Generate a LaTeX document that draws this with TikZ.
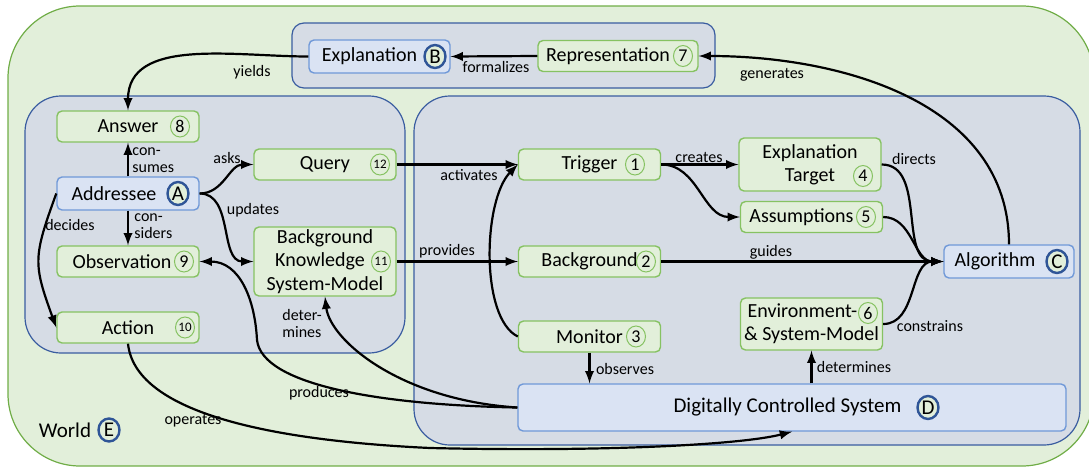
\documentclass[tikz,border=0pt]{standalone}
\usepackage{fontspec}
\setmainfont{Carlito}
\usetikzlibrary{shapes.geometric}
\tikzset{>=latex}
\definecolor{worldfill}{HTML}{E2EFDA}
\definecolor{worldline}{HTML}{70AD47}
\definecolor{panelfill}{HTML}{D6DCE5}
\definecolor{panelline}{HTML}{3A5DA0}
\definecolor{gfill}{HTML}{E2EFDA}
\definecolor{gline}{HTML}{86C262}
\definecolor{bfill}{HTML}{DAE3F3}
\definecolor{bline}{HTML}{7099D8}
\definecolor{letline}{HTML}{2F5597}
\tikzset{
  world/.style = {draw=worldline, fill=worldfill, line width=0.6pt, rounded corners=36pt},
  panel/.style = {draw=panelline, fill=panelfill, line width=0.6pt},
  greenbox/.style = {draw=gline, fill=gfill, rounded corners=2.5pt, line width=0.7pt,
    minimum width=71pt, minimum height=15.5pt, inner sep=1pt, align=center,
    execute at end node={\kern#1}},
  greenbox/.default = 0pt,
  bluebox/.style = {draw=bline, fill=bfill, rounded corners=2.5pt, line width=0.7pt,
    minimum width=71pt, minimum height=16.5pt, inner sep=1pt,
    execute at end node={\kern#1}},
  bluebox/.default = 0pt,
  numc/.style = {ellipse, draw=gline, fill=gfill, line width=0.5pt, minimum width=9.5pt,
    minimum height=10.5pt, inner sep=0pt, font=\fontsize{9}{9}\selectfont},
  smallnum/.style = {font=\fontsize{6.5}{6.5}\selectfont},
  letc/.style = {ellipse, draw=letline, fill=gfill, line width=1.2pt, minimum width=10.5pt,
    minimum height=11.5pt, inner sep=0pt, font=\fontsize{10.5}{10.5}\selectfont},
  lbl/.style = {inner sep=0pt, align=left, font=\fontsize{8}{8.5}\selectfont},
  conn/.style = {->, line width=1.1pt}
}

\begin{document}
\begin{tikzpicture}[x=0.5pt,y=0.5pt,font=\fontsize{10}{11.7}\selectfont]
  \useasboundingbox (0,0) rectangle (1089,468);
  % world and the three panels
  \draw[world] (8,2) rectangle (1094,462);
  \draw[panel,rounded corners=6pt] (292,380) rectangle (715,445);
  \draw[panel,rounded corners=18pt] (25,115) rectangle (405,372);
  \draw[panel,rounded corners=18pt] (414,23) rectangle (1080,372);

  % explanation panel
  \node[bluebox=10pt,minimum width=70.5pt] (expl) at (379.5,411.5) {Explanation};
  \node[letc] (b) at (435,411.5) {B};
  \node[greenbox=10pt,minimum width=80pt] (rep) at (618,412) {Representation};
  \node[numc] (n7) at (683,412) {7};

  % addressee panel
  \node[greenbox] (ans) at (128,341.5) {Answer};
  \node[numc] (n8) at (180,341.5) {8};
  \node[greenbox] (qry) at (325,303.5) {Query};
  \node[numc,smallnum] (n12) at (380,303.5) {12};
  \node[bluebox=14pt] (addr) at (128,274.5) {Addressee};
  \node[letc] (a) at (178,274.5) {A};
  \node[greenbox=6pt] (obs) at (128,206.5) {Observation};
  \node[numc] (n9) at (184,206.5) {9};
  \node[greenbox,minimum height=34.5pt] (bk) at (325,206.5) {Background\\Knowledge\kern5pt\\System-Model};
  \node[numc,smallnum] (n11) at (381,206.5) {11};
  \node[greenbox] (act) at (128,140.5) {Action};
  \node[numc,smallnum] (n10) at (185,140.5) {10};

  % system panel
  \node[greenbox] (trig) at (589.5,303.5) {Trigger};
  \node[numc] (n1) at (635,303.5) {1};
  \node[greenbox] (bg) at (589.5,206.5) {Background};
  \node[numc] (n2) at (646,206.5) {2};
  \node[greenbox] (mon) at (589.5,131.5) {Monitor};
  \node[numc] (n3) at (636,131.5) {3};
  \node[greenbox,minimum height=26.5pt] (tgt) at (810,303.5) {Explanation\\Target};
  \node[numc] (n4) at (863,292) {4};
  \node[greenbox=10pt] (ass) at (811.5,251) {Assumptions};
  \node[numc] (n5) at (866,251) {5};
  \node[greenbox,minimum height=26pt] (env) at (811.5,144) {Environment-\kern9pt\\\& System-Model};
  \node[numc] (n6) at (868,155) {6};
  \node[bluebox=14pt,minimum width=65pt] (alg) at (1009,206.5) {Algorithm};
  \node[letc] (c) at (1057,206.5) {C};
  \node[bluebox=4.5pt,minimum width=274pt,minimum height=23.5pt,font=\fontsize{10.5}{12}\selectfont] (dcs) at (792,60.5) {Digitally Controlled System};
  \node[letc] (d) at (928,60.5) {D};

  \node[font=\fontsize{10.5}{12}\selectfont] (world) at (65,38) {World};
  \node[letc] (e) at (109,38) {E};

  % connectors
  \draw[conn] (rep.west) -- (expl.east);
  \draw[conn] (alg.north) to[out=90,in=0] (rep.east);
  \draw[conn] (expl.west) to[out=180,in=90] (ans.north);
  \draw[conn] (addr.north) -- (ans.south);
  \draw[conn] (addr.south) -- (obs.north);
  \draw[conn] (addr.west) to[out=250,in=110,looseness=1.3] (act.west);
  \draw[conn] (addr.east) to[out=0,in=180] (qry.west);
  \draw[conn] (addr.east) to[out=0,in=180] (bk.west);
  \draw[conn] (qry.east) -- (trig.west);
  \draw[conn] (bk.east) -- (bg.west);
  \draw[conn] (mon.west) .. controls (480,150) and (483,268) .. (trig.west);
  \draw[conn] (trig.east) -- (tgt.west);
  \draw[conn] (trig.east) to[out=0,in=180] (ass.west);
  \draw[conn] (bg.east) -- (alg.west);
  \draw[conn] (tgt.east) to[out=0,in=180] (alg.west);
  \draw[conn] (ass.east) to[out=0,in=180] (alg.west);
  \draw[conn] (env.east) to[out=0,in=180] (alg.west);
  \draw[conn] (mon.south) -- (mon.south |- dcs.north);
  \draw[conn] (env.south |- dcs.north) -- (env.south);
  \draw[conn] (dcs.west) .. controls (380,63) and (262,83) .. (257,128)
    .. controls (255,168) and (240,206.5) .. (obs.east);
  \draw[conn] (dcs.west) .. controls (400,68) and (330,128) .. (bk.south);
  \draw[conn] (act.south) .. controls (135,58) and (260,28) .. (430,20)
    .. controls (600,16) and (740,23) .. (dcs.south);

  % connector labels
  \node[lbl] (l-form) at (496,401) {formalizes};
  \node[lbl] (l-gen) at (772,393) {generates};
  \node[lbl] (l-yield) at (252,396) {yields};
  \node[lbl,anchor=west] (l-cons) at (132,308) {con-\\sumes};
  \node[lbl] (l-ask) at (227,310) {asks};
  \node[lbl,anchor=west] (l-consid) at (134,242) {con-\\siders};
  \node[lbl] (l-upd) at (253,258) {updates};
  \node[lbl] (l-dec) at (70,243) {decides};
  \node[lbl,anchor=west] (l-det1) at (282,145) {deter-\\mines};
  \node[lbl] (l-prod) at (319,75) {produces};
  \node[lbl] (l-op) at (193,47) {operates};
  \node[lbl] (l-act) at (469,293) {activates};
  \node[lbl] (l-prov) at (447,217) {provides};
  \node[lbl] (l-cre) at (699,311) {creates};
  \node[lbl] (l-gui) at (771,216) {guides};
  \node[lbl] (l-dir) at (914,309) {directs};
  \node[lbl] (l-con) at (930,142) {constrains};
  \node[lbl] (l-obs) at (625,99) {observes};
  \node[lbl] (l-det2) at (854,101) {determines};
\end{tikzpicture}
\end{document}
